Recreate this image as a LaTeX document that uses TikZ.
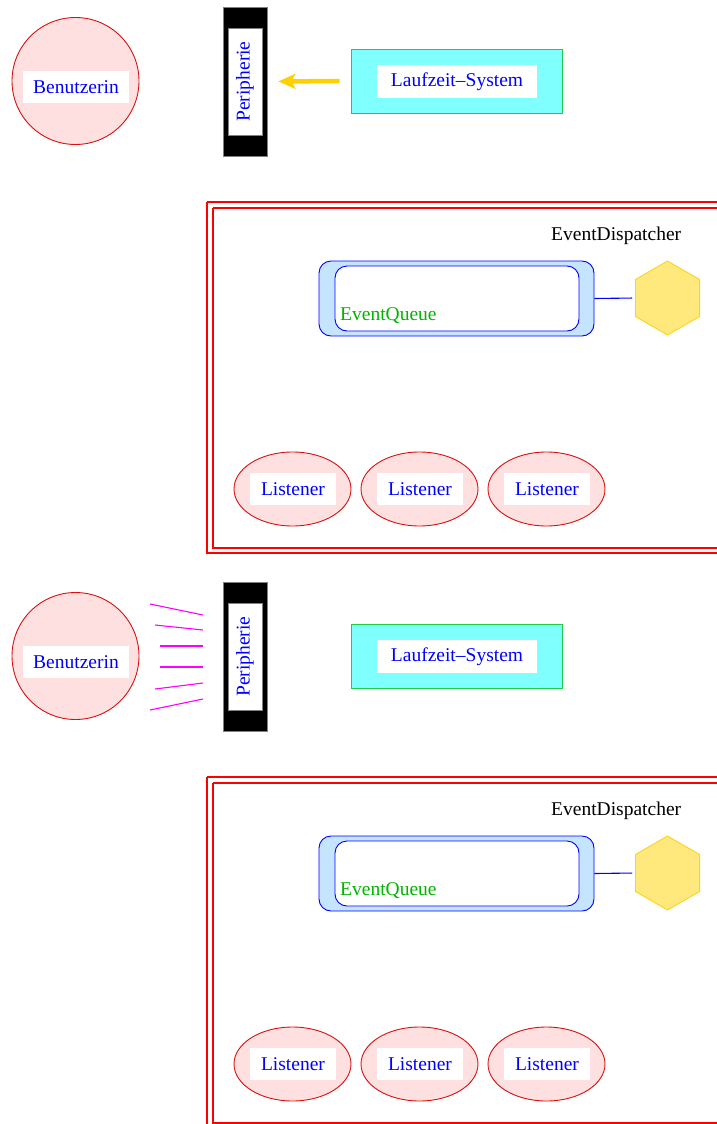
\documentclass[tikz,border=0pt]{standalone}
\usepackage{fontspec}
\setmainfont{Liberation Serif}
\usetikzlibrary{shapes.geometric,arrows.meta}
\definecolor{pinkfill}{HTML}{FFE0E0}
\definecolor{circred}{HTML}{D81010}
\definecolor{cyanfill}{HTML}{80FFFF}
\definecolor{rtsgreen}{HTML}{22CC44}
\definecolor{qblue}{HTML}{C4E4FF}
\definecolor{hexfill}{HTML}{FFE87C}
\definecolor{hexdraw}{HTML}{FFD21E}
\definecolor{arrowgold}{HTML}{FFD000}
\definecolor{eqgreen}{HTML}{00B400}
\definecolor{framered}{HTML}{FF0000}
\definecolor{linkblue}{HTML}{0000FF}
\definecolor{raymag}{HTML}{FF00FF}
\tikzset{
  every node/.style={font=\fontsize{19.5}{23}\selectfont},
  lbl/.style={fill=white, text=blue, minimum height=32pt, inner sep=0pt},
  usercirc/.style={circle, draw=circred, fill=pinkfill, line width=0.9pt, minimum size=127pt, inner sep=0pt},
  peribox/.style={rectangle, fill=black, draw=gray, line width=0.8pt, minimum width=44pt, minimum height=149pt, inner sep=0pt},
  rtsbox/.style={rectangle, fill=cyanfill, draw=rtsgreen, line width=0.9pt, minimum width=211pt, minimum height=64pt, inner sep=0pt},
  frame/.style={color=framered, line width=1.1pt},
  eqouter/.style={rectangle, rounded corners=12pt, fill=qblue, draw=blue, line width=0.9pt, minimum width=275pt, minimum height=75pt, inner sep=0pt},
  eqinner/.style={rectangle, rounded corners=12pt, fill=white, draw=blue, line width=0.9pt, minimum width=244pt, minimum height=65pt, inner sep=0pt},
  hexnode/.style={regular polygon, regular polygon sides=6, shape border rotate=30, fill=hexfill, draw=hexdraw, line width=0.9pt, minimum size=74pt, inner sep=0pt},
  listener/.style={ellipse, draw=circred, fill=pinkfill, line width=0.9pt, minimum width=117pt, minimum height=74pt, inner sep=0pt},
  link/.style={color=linkblue, line width=1.1pt},
  goldarrow/.style={color=arrowgold, line width=4.5pt, -{Stealth[length=17pt,width=15pt,inset=4pt]}},
  ray/.style={color=raymag, line width=1.1pt}
}
\newcommand{\drawpart}[2]{%
\begin{scope}[yshift=-#1pt]
  \node[usercirc] (user#2) at (75.5,81) {};
  \node[lbl, minimum width=106pt] (userlbl#2) at (76,87) {Benutzerin};
  \node[peribox] (peri#2) at (245,81.5) {};
  \node[lbl, rotate=90, draw=gray, line width=0.6pt, minimum width=107pt, minimum height=34pt] (perilbl#2) at (245,81.5) {Peripherie};
  \node[rtsbox] (rts#2) at (456.5,81) {};
  \node[lbl, minimum width=160pt, minimum height=33pt] (rtslbl#2) at (457,81.5) {Laufzeit--System};
  \draw[frame] (207,202) -- (730,202) (207,202) -- (207,553) -- (730,553);
  \draw[frame] (213,208) -- (730,208) (213,208) -- (213,548) -- (730,548);
  \node[anchor=base west, text=black, inner sep=0pt] (disp#2) at (551,240) {EventDispatcher};
  \node[eqouter] (eqo#2) at (456.5,298.5) {};
  \node[eqinner] (eqi#2) at (457,298.5) {};
  \node[anchor=base west, text=eqgreen, inner sep=0pt] (eqlbl#2) at (340,320) {EventQueue};
  \node[hexnode] (hex#2) at (667.5,298) {};
  \draw[link, shorten >=3pt] (eqo#2.east) -- (hex#2.west);
  \node[listener] (lis#2a) at (292.5,489) {};
  \node[lbl, minimum width=86pt] (lislbl#2a) at (293,489) {Listener};
  \node[listener] (lis#2b) at (419.5,489) {};
  \node[lbl, minimum width=86pt] (lislbl#2b) at (420,489) {Listener};
  \node[listener] (lis#2c) at (546.5,489) {};
  \node[lbl, minimum width=86pt] (lislbl#2c) at (547,489) {Listener};
\end{scope}}
\begin{document}
\begin{tikzpicture}[x=1pt, y=-1pt]
  \useasboundingbox (0,0) rectangle (717,1124);
  \clip (0,0) rectangle (717,1124);
  \drawpart{0}{1}
  \drawpart{575}{2}
  \draw[goldarrow, shorten <=11pt, shorten >=11pt] (rts1.west) -- (peri1.east);
  \draw[ray] (150,604) -- (203,615);
  \draw[ray] (155,625) -- (203,630);
  \draw[ray] (160,646) -- (203,646);
  \draw[ray] (160,667) -- (203,667);
  \draw[ray] (155,689) -- (203,683);
  \draw[ray] (150,710) -- (203,699);
\end{tikzpicture}
\end{document}
